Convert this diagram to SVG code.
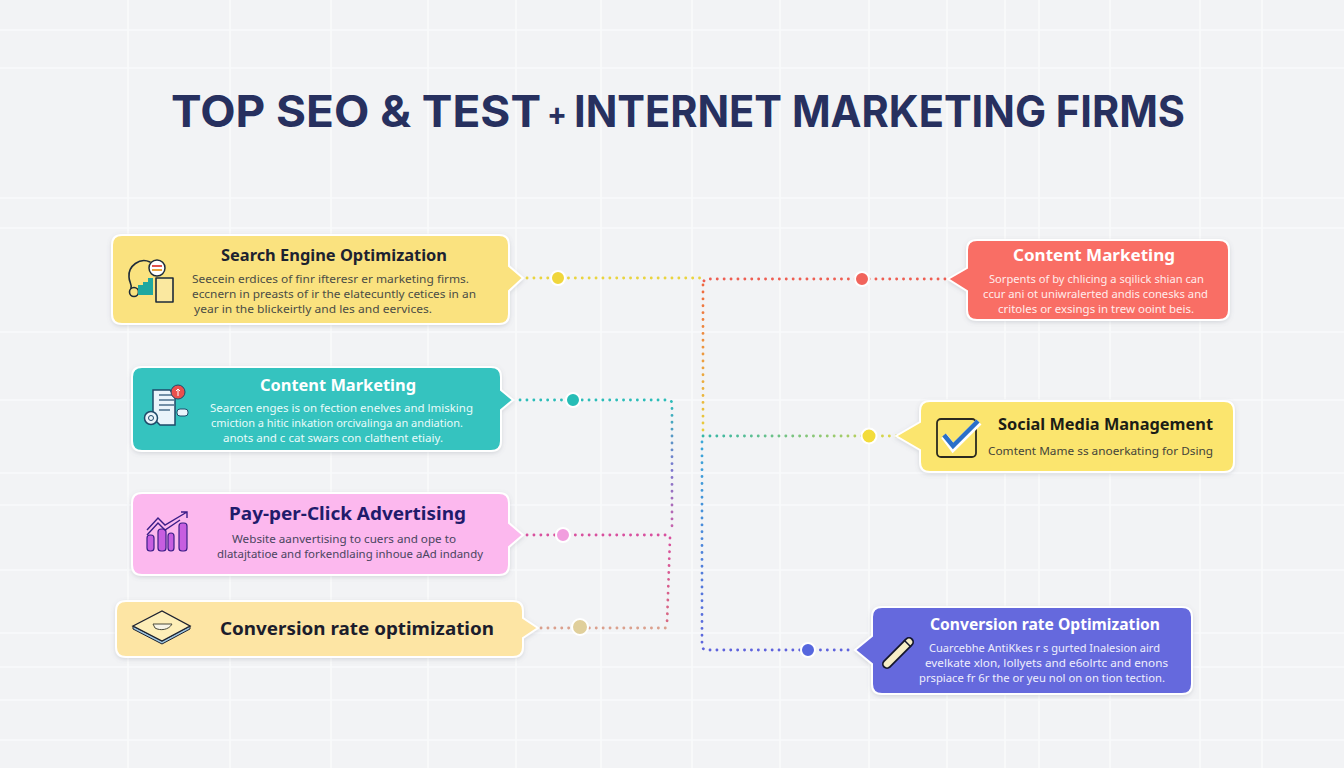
<svg xmlns="http://www.w3.org/2000/svg" width="1344" height="768" viewBox="0 0 1344 768">
<style>
text{font-family:"Noto Sans","Liberation Sans",sans-serif}
.t{font-weight:700;font-size:16.5px;text-anchor:start}
.b{font-size:11px}
.grid line{stroke:#f9fafb;stroke-width:1.6}
.node{stroke:#fff;stroke-width:2;filter:url(#sh)}
.con path{fill:none;stroke-width:2.8;stroke-linecap:round;stroke-dasharray:.1 6.8}
.pt{stroke:#fff;stroke-width:2}
.ink{fill:none;stroke:#1d2b3a;stroke-width:1.6;stroke-linejoin:round;stroke-linecap:round}
</style>
<defs>
<filter id="sh" x="-5%" y="-10%" width="110%" height="125%"><feDropShadow dx="0" dy="1.5" stdDeviation="2" flood-color="#6b7280" flood-opacity=".22"/></filter>
<linearGradient id="g1" gradientUnits="userSpaceOnUse" x1="703" y1="280" x2="703" y2="436"><stop offset="0" stop-color="#f0653f"/><stop offset="1" stop-color="#e8d23c"/></linearGradient>
<linearGradient id="g2" gradientUnits="userSpaceOnUse" x1="703" y1="436" x2="900" y2="436"><stop offset="0" stop-color="#35b7a8"/><stop offset=".7" stop-color="#9fcb6b"/><stop offset="1" stop-color="#e8d83f"/></linearGradient>
<linearGradient id="g3" gradientUnits="userSpaceOnUse" x1="672" y1="400" x2="672" y2="535"><stop offset="0" stop-color="#2cbdb8"/><stop offset=".5" stop-color="#7b79d0"/><stop offset="1" stop-color="#d05fa8"/></linearGradient>
<linearGradient id="g4" gradientUnits="userSpaceOnUse" x1="670" y1="535" x2="667" y2="627"><stop offset="0" stop-color="#d84f9f"/><stop offset="1" stop-color="#d86a80"/></linearGradient>
<linearGradient id="g5" gradientUnits="userSpaceOnUse" x1="702" y1="440" x2="702" y2="650"><stop offset="0" stop-color="#3aa8d8"/><stop offset="1" stop-color="#5f63dd"/></linearGradient>
</defs>
<rect width="1344" height="768" fill="#f2f3f5"/>
<g class="grid">
<line x1="128" y1="0" x2="128" y2="768"/><line x1="230" y1="0" x2="230" y2="768"/><line x1="331" y1="0" x2="331" y2="768"/><line x1="428" y1="0" x2="428" y2="768"/><line x1="516" y1="0" x2="516" y2="768"/><line x1="601" y1="0" x2="601" y2="768"/><line x1="692" y1="0" x2="692" y2="768"/><line x1="780" y1="0" x2="780" y2="768"/><line x1="869" y1="0" x2="869" y2="768"/><line x1="947" y1="0" x2="947" y2="768"/><line x1="1005" y1="0" x2="1005" y2="768"/><line x1="1039" y1="0" x2="1039" y2="768"/><line x1="1110" y1="0" x2="1110" y2="768"/><line x1="1200" y1="0" x2="1200" y2="768"/><line x1="1262" y1="0" x2="1262" y2="768"/>
<line x1="0" y1="30" x2="1344" y2="30"/><line x1="0" y1="68" x2="1344" y2="68"/><line x1="0" y1="198" x2="1344" y2="198"/><line x1="0" y1="228" x2="1344" y2="228"/><line x1="0" y1="332" x2="1344" y2="332"/><line x1="0" y1="400" x2="1344" y2="400"/><line x1="0" y1="473" x2="1344" y2="473"/><line x1="0" y1="505" x2="1344" y2="505"/><line x1="0" y1="570" x2="1344" y2="570"/><line x1="0" y1="633" x2="1344" y2="633"/><line x1="0" y1="667" x2="1344" y2="667"/><line x1="0" y1="700" x2="1344" y2="700"/><line x1="0" y1="740" x2="1344" y2="740"/>
</g>
<text id="title" y="127" font-size="44" font-weight="700" fill="#27305f" style="font-family:Inter,'Liberation Sans',sans-serif"><tspan x="171" textLength="370" lengthAdjust="spacingAndGlyphs">TOP SEO &amp; TEST</tspan><tspan x="547" font-size="32" y="125" textLength="20" lengthAdjust="spacingAndGlyphs">+</tspan><tspan x="574" y="127" textLength="611" lengthAdjust="spacingAndGlyphs">INTERNET MARKETING FIRMS</tspan></text>
<g id="connectors" class="con">
<path d="M527 278H700" stroke="#e9d43f"/>
<path d="M945 279H708Q703 279 703 285" stroke="#ee5e52"/>
<path d="M703 285V436" stroke="url(#g1)"/>
<path d="M703 436H900" stroke="url(#g2)"/>
<path d="M702 442V645Q702 650 707 650H850" stroke="url(#g5)"/>
<path d="M520 400H668Q672 400 672 404V532" stroke="url(#g3)"/>
<path d="M527 535H668Q670 535 670 538L667 624" stroke="url(#g4)"/>
<path d="M541 628H667" stroke="#dba08d"/>
<circle class="pt" cx="558" cy="278" r="7" fill="#f0d63c"/>
<circle class="pt" cx="862" cy="279" r="7" fill="#f1645c"/>
<circle class="pt" cx="869" cy="436" r="7.5" fill="#f3dc3b"/>
<circle class="pt" cx="573" cy="400" r="7" fill="#26bdb6"/>
<circle class="pt" cx="563" cy="535" r="7" fill="#f19ede"/>
<circle class="pt" cx="580" cy="627" r="8" fill="#e0cf9b"/>
<circle class="pt" cx="808" cy="650" r="7" fill="#5667de"/>
</g>
<g id="n1">
<path class="node" fill="#fae27f" d="M122 235H499Q509 235 509 245V266L523 278L509 291V314Q509 324 499 324H122Q112 324 112 314V245Q112 235 122 235Z"/>
<path class="ink" d="M150 262C140 257 128 266 129 277C129 282 132 284 131 288"/>
<circle class="ink" cx="134" cy="292" r="4.5"/>
<path d="M138 295V285H143V282H148V278H153V295Z" fill="#1fa8a0"/>
<circle cx="157" cy="268" r="8" fill="#fff" stroke="#1d2b3a" stroke-width="1.5"/>
<path d="M152 266H162" stroke="#e0524c" stroke-width="2"/><path d="M152 270H162" stroke="#e7a13c" stroke-width="2"/>
<rect class="ink" x="156" y="278" width="17" height="24" style="fill:#fae8a0"/>
<text class="t" x="221" y="261" textLength="226" lengthAdjust="spacingAndGlyphs" fill="#1d2230">Search Engine Optimization</text>
<g class="b" fill="#4a4d45">
<text x="192" y="283" textLength="277" lengthAdjust="spacingAndGlyphs">Seecein erdices of finr ifteresr er marketing firms.</text>
<text x="192" y="298" textLength="284" lengthAdjust="spacingAndGlyphs">eccnern in preasts of ir the elatecuntly cetices in an</text>
<text x="194" y="313" textLength="238" lengthAdjust="spacingAndGlyphs">year  in the blickeirtly and les and eervices.</text>
</g>
</g>
<g id="n2">
<path class="node" fill="#35c3bf" d="M142 367H491Q501 367 501 377V390L513 400L501 410V441Q501 451 491 451H142Q132 451 132 441V377Q132 367 142 367Z"/>
<path d="M153 390H170L175 396V425H160L153 418Z" fill="#eaf4fb" stroke="#1f4a6a" stroke-width="1.5"/>
<path d="M159 395H174M159 400H174M159 405H174M159 410H170" stroke="#4a6d8c" stroke-width="1.5"/>
<circle cx="178" cy="392" r="7" fill="#e9504e" stroke="#1f4a6a"/>
<path d="M178 396V389M176 391L178 389L180 391" stroke="#fff" fill="none"/>
<circle cx="151" cy="418" r="6.5" fill="#eaf4fb" stroke="#1f4a6a" stroke-width="1.5"/><circle cx="151" cy="418" r="2.5" fill="none" stroke="#1f4a6a"/>
<rect x="177" y="409" width="11" height="7" rx="3" fill="#eaf4fb" stroke="#1f4a6a"/>
<text class="t" x="260" y="391" textLength="156" lengthAdjust="spacingAndGlyphs" fill="#fff">Content Marketing</text>
<g class="b" fill="#e8fbfa">
<text x="210" y="412" textLength="263" lengthAdjust="spacingAndGlyphs">Searcen enges is on fection enelves and lmisking</text>
<text x="211" y="427" textLength="252" lengthAdjust="spacingAndGlyphs">cmiction a hitic inkation orcivalinga an andiation.</text>
<text x="223" y="442" textLength="220" lengthAdjust="spacingAndGlyphs">anots and c cat swars con clathent etiaiy.</text>
</g>
</g>
<g id="n3">
<path class="node" fill="#fcb8ee" d="M142 493H499Q509 493 509 503V523L523 535L509 547V565Q509 575 499 575H142Q132 575 132 565V503Q132 493 142 493Z"/>
<g fill="#c75ee0" stroke="#3b1e88" stroke-width="1.2"><rect x="147" y="535" width="7" height="16" rx="3"/><rect x="158" y="529" width="8" height="22" rx="3"/><rect x="168" y="533" width="6" height="18" rx="3"/><rect x="179" y="523" width="8" height="28" rx="3"/></g>
<path d="M147 530L158 518L165 525L187 512M147 535L158 523L165 530L180 520M181 512H187V518" fill="none" stroke="#3b1e88" stroke-width="1.4"/>
<text class="t" x="229" y="520" font-size="18" textLength="237" lengthAdjust="spacingAndGlyphs" fill="#1f1b6b" style="font-size:18px">Pay-per-Click Advertising</text>
<g class="b" fill="#4a4560">
<text x="232" y="543" textLength="224" lengthAdjust="spacingAndGlyphs">Website aanvertising to cuers and ope to</text>
<text x="217" y="558" textLength="266" lengthAdjust="spacingAndGlyphs">dlatajtatioe and forkendlaing inhoue aAd indandy</text>
</g>
</g>
<g id="n4">
<path class="node" fill="#fde5a4" d="M126 601H513Q523 601 523 611V618L538 628L523 638V647Q523 657 513 657H126Q116 657 116 647V611Q116 601 126 601Z"/>
<path d="M133 629L162 644L190 629V626L162 641L133 626Z" fill="#9cc4df" stroke="#1d2230"/>
<path d="M133 626L162 611L190 626L162 641Z" fill="#fdeeb8" stroke="#1d2230" stroke-width="1.4"/>
<path d="M153 624H172C169 630 160 631 155 628Z" fill="#f7f4e6" stroke="#4a4a3a"/>
<text class="t" x="220" y="635" textLength="274" lengthAdjust="spacingAndGlyphs" fill="#1c1d2c" style="font-size:18px">Conversion rate optimization</text>
</g>
<g id="n5">
<path class="node" fill="#f96e65" d="M977 240H1219Q1229 240 1229 250V310Q1229 320 1219 320H977Q967 320 967 310V291L948 279L967 268V250Q967 240 977 240Z"/>
<text class="t" x="1013" y="261" textLength="162" lengthAdjust="spacingAndGlyphs" fill="#fff">Content Marketing</text>
<g class="b" fill="#ffeceb">
<text x="989" y="283" textLength="215" lengthAdjust="spacingAndGlyphs">Sorpents of by chlicing a sqilick shian can</text>
<text x="983" y="298" textLength="225" lengthAdjust="spacingAndGlyphs">ccur ani ot uniwralerted andis conesks and</text>
<text x="998" y="313" textLength="196" lengthAdjust="spacingAndGlyphs">critoles or exsings in trew ooint beis.</text>
</g>
</g>
<g id="n6">
<path class="node" fill="#fbe56e" d="M930 401H1224Q1234 401 1234 411V462Q1234 472 1224 472H930Q920 472 920 462V450L896 436L920 422V411Q920 401 930 401Z"/>
<rect x="937" y="419" width="39" height="38" rx="4" fill="none" stroke="#2b2a1f" stroke-width="1.8"/>
<path d="M944 436L953 448L979 422" fill="none" stroke="#fff" stroke-width="7"/>
<path d="M944 435L953 446L978 421" fill="none" stroke="#2a6fc9" stroke-width="4.5"/>
<text class="t" x="998" y="430" textLength="215" lengthAdjust="spacingAndGlyphs" fill="#1c1d16">Social Media Management</text>
<text class="b" x="988" y="455" textLength="225" lengthAdjust="spacingAndGlyphs" fill="#44443a">Comtent Mame ss anoerkating for Dsing</text>
</g>
<g id="n7">
<path class="node" fill="#6569dd" d="M882 607H1182Q1192 607 1192 617V684Q1192 694 1182 694H882Q872 694 872 684V664L855 650L872 636V617Q872 607 882 607Z"/>
<path d="M887 664L909 642" stroke="#14162c" stroke-width="10" stroke-linecap="round"/>
<path d="M887 664L909 642" stroke="#f6edc6" stroke-width="6.5" stroke-linecap="round"/>
<path d="M904 640L911 647" stroke="#14162c" stroke-width="1.5"/>
<text class="t" x="930" y="630" textLength="230" lengthAdjust="spacingAndGlyphs" fill="#fff">Conversion rate Optimization</text>
<g class="b" fill="#eeeefc">
<text x="929" y="652" textLength="231" lengthAdjust="spacingAndGlyphs">Cuarcebhe AntiKkes r s gurted Inalesion aird</text>
<text x="925" y="667" textLength="243" lengthAdjust="spacingAndGlyphs">evelkate xlon, lollyets and e6olrtc and enons</text>
<text x="919" y="682" textLength="246" lengthAdjust="spacingAndGlyphs">prspiace fr 6r the or yeu nol on on tion tection.</text>
</g>
</g>
</svg>
